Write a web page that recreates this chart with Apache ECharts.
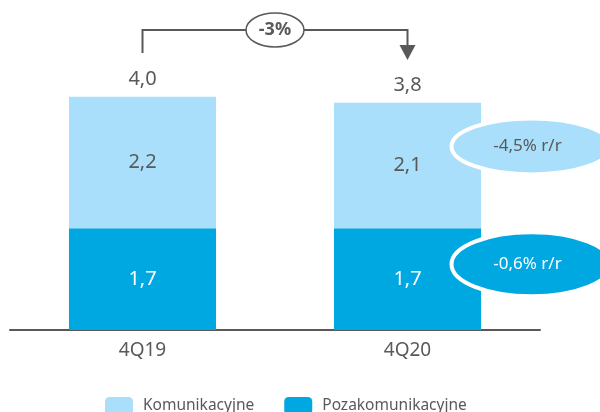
<!DOCTYPE html>
<html>
<head>
<meta charset="utf-8">
<script src="https://cdn.jsdelivr.net/npm/echarts@6/dist/echarts.min.js"></script>
<style>
  html, body { margin: 0; padding: 0; background: #fff; }
  #chart { width: 600px; height: 412px; }
</style>
</head>
<body>
<div id="chart"></div>
<script>
var categories = ['4Q19', '4Q20']
var pozakomunikacyjne = [1.7, 1.7]
var komunikacyjne = [2.2, 2.1]
var totals = [4.0, 3.8]
var changeTotal = '-3%'
var changeKom = '-4,5% r/r'
var changePoza = '-0,6% r/r'

var LIGHT = '#aadffb'
var DARK = '#00a8e2'
var TEXT = '#595959'
var FONT = 'Noto Sans'

function fmt(v) {
  return v.toFixed(1).replace('.', ',')
}

var chart = echarts.init(document.getElementById('chart'))

var option = {
  animation: false,
  textStyle: { fontFamily: FONT },
  grid: { left: 10, right: 60, top: 31, bottom: 82 },
  legend: {
    data: ['Komunikacyjne', 'Pozakomunikacyjne'],
    top: 392,
    left: 100,
    itemWidth: 28,
    itemHeight: 18,
    itemGap: 30,
    textStyle: { color: TEXT, fontSize: 15.5, fontFamily: FONT, padding: [0, 0, 0, 5] }
  },
  xAxis: {
    type: 'category',
    data: categories,
    axisLine: { lineStyle: { color: TEXT, width: 2 } },
    axisTick: { show: false },
    axisLabel: { color: TEXT, fontSize: 19, margin: 11 }
  },
  yAxis: {
    type: 'value',
    min: 0,
    max: 5,
    show: false,
    splitLine: { show: false }
  },
  series: [
    {
      name: 'Pozakomunikacyjne',
      type: 'bar',
      stack: 'total',
      barWidth: '55.5%',
      itemStyle: { color: DARK },
      label: {
        show: true,
        color: '#fff',
        fontSize: 20,
        formatter: function (p) { return fmt(p.value) }
      },
      data: pozakomunikacyjne
    },
    {
      name: 'Komunikacyjne',
      type: 'bar',
      stack: 'total',
      itemStyle: { color: LIGHT },
      label: {
        show: true,
        color: TEXT,
        fontSize: 20,
        formatter: function (p) { return fmt(p.value) }
      },
      data: komunikacyjne
    },
    {
      name: 'Suma',
      type: 'bar',
      stack: 'total',
      itemStyle: { color: 'transparent' },
      label: {
        show: true,
        position: 'top',
        distance: 7,
        color: TEXT,
        fontSize: 20,
        formatter: function (p) { return fmt(totals[p.dataIndex]) }
      },
      data: totals.map(function () { return 0 })
    }
  ]
}

chart.setOption(option)

// annotations positioned from the chart's own scales
var p0 = chart.convertToPixel({ gridIndex: 0 }, [0, 0])
var p1 = chart.convertToPixel({ gridIndex: 0 }, [1, 0])
var x0 = p0[0]
var x1 = p1[0]
var bracketY = 30
var midX = (x0 + x1) / 2
var ellX = p1[0] + 124
var yKom = chart.convertToPixel({ gridIndex: 0 }, [1, 3.07])[1]
var yPoza = chart.convertToPixel({ gridIndex: 0 }, [1, 1.1])[1]

chart.setOption({
  graphic: [
    {
      type: 'polyline',
      z: 100,
      shape: { points: [[x0, bracketY + 23], [x0, bracketY], [x1, bracketY], [x1, bracketY + 16]] },
      style: { stroke: TEXT, lineWidth: 2, fill: null }
    },
    {
      type: 'polygon',
      z: 100,
      shape: { points: [[x1 - 8, bracketY + 15], [x1 + 8, bracketY + 15], [x1, bracketY + 30]] },
      style: { fill: TEXT }
    },
    {
      type: 'ellipse',
      z: 100,
      shape: { cx: midX, cy: bracketY, rx: 29, ry: 17 },
      style: { fill: '#fff', stroke: TEXT, lineWidth: 1.5 }
    },
    {
      type: 'text',
      z: 101,
      x: midX,
      y: bracketY,
      style: { text: changeTotal, fill: TEXT, font: 'bold 18px ' + FONT, align: 'center', verticalAlign: 'middle' }
    },
    {
      type: 'ellipse',
      z: 100,
      shape: { cx: ellX, cy: yKom, rx: 80, ry: 28 },
      style: { fill: LIGHT, stroke: '#fff', lineWidth: 4 }
    },
    {
      type: 'text',
      z: 101,
      x: ellX - 4,
      y: yKom,
      style: { text: changeKom, fill: TEXT, font: '17px ' + FONT, align: 'center', verticalAlign: 'middle' }
    },
    {
      type: 'ellipse',
      z: 100,
      shape: { cx: ellX, cy: yPoza, rx: 80, ry: 32 },
      style: { fill: DARK, stroke: '#fff', lineWidth: 4 }
    },
    {
      type: 'text',
      z: 101,
      x: ellX - 4,
      y: yPoza,
      style: { text: changePoza, fill: '#fff', font: '17px ' + FONT, align: 'center', verticalAlign: 'middle' }
    }
  ]
})
</script>
</body>
</html>
